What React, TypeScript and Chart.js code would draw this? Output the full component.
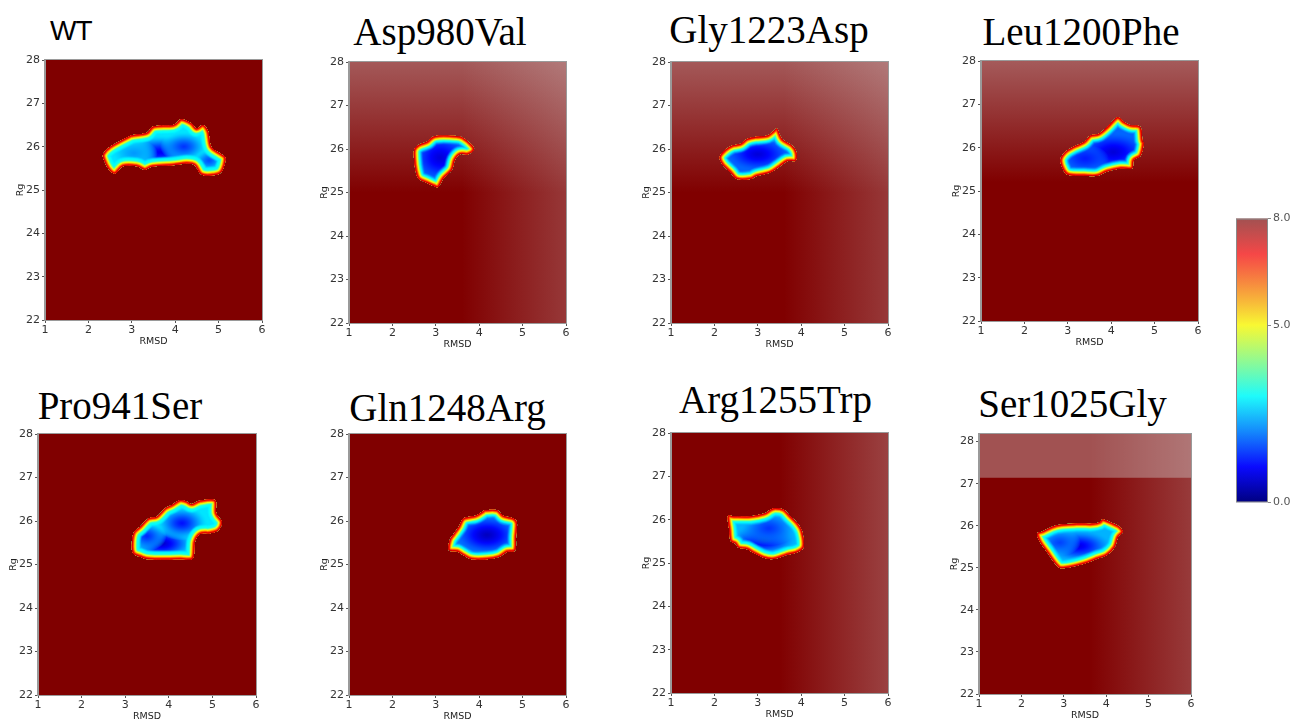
import React, { useEffect, useRef } from 'react';
import { Chart, registerables } from 'chart.js';

Chart.register(...registerables);

// ---------------- data ----------------
const xTicks = [1, 2, 3, 4, 5, 6];
const yTicks = [22, 23, 24, 25, 26, 27, 28];
const colorbarTicks = [0, 5, 8];
const rmsdRange = [1, 6];
const rgMin = 22;
const rgMax = [28, 28, 28, 28, 28, 28, 28, 28.18];
const energyMax = 8;

const panelTitles = ['WT', 'Asp980Val', 'Gly1223Asp', 'Leu1200Phe', 'Pro941Ser', 'Gln1248Arg', 'Arg1255Trp', 'Ser1025Gly'];

// basin borders [RMSD, Rg] (where the free energy leaves the 8.0 plateau)
const wtBasin = [[2.34, 25.83], [2.5, 26.0], [2.92, 26.23], [3.03, 26.27], [3.34, 26.32], [3.51, 26.47], [3.95, 26.5], [4.14, 26.63], [4.37, 26.54], [4.49, 26.42], [4.64, 26.5], [4.76, 26.35], [4.83, 26.0], [5.03, 25.85], [5.16, 25.73], [5.07, 25.42], [4.87, 25.34], [4.6, 25.36], [4.45, 25.57], [4.26, 25.61], [3.95, 25.57], [3.49, 25.54], [3.3, 25.47], [3.11, 25.55], [2.8, 25.55], [2.61, 25.38], [2.46, 25.49], [2.36, 25.69]];
const aspBasin = [[2.5, 25.98], [2.6, 26.09], [2.8, 26.17], [2.99, 26.3], [3.48, 26.3], [3.64, 26.25], [3.83, 26.09], [3.88, 25.98], [3.75, 25.88], [3.56, 25.88], [3.44, 25.75], [3.37, 25.52], [3.18, 25.33], [3.06, 25.13], [2.95, 25.15], [2.8, 25.22], [2.6, 25.32], [2.53, 25.52], [2.5, 25.75]];
const glyBasin = [[2.12, 25.82], [2.25, 25.98], [2.41, 26.08], [2.6, 26.12], [2.75, 26.23], [2.95, 26.28], [3.22, 26.31], [3.37, 26.42], [3.45, 26.46], [3.56, 26.23], [3.79, 26.08], [3.89, 25.92], [3.87, 25.73], [3.68, 25.72], [3.48, 25.58], [3.29, 25.46], [2.98, 25.38], [2.83, 25.31], [2.52, 25.31], [2.37, 25.46], [2.18, 25.65]];
const leuBasin = [[2.83, 25.72], [2.94, 25.9], [3.13, 26.02], [3.37, 26.13], [3.52, 26.28], [3.71, 26.32], [3.91, 26.48], [4.14, 26.7], [4.29, 26.6], [4.45, 26.52], [4.67, 26.48], [4.72, 26.17], [4.75, 26.09], [4.68, 25.82], [4.52, 25.71], [4.48, 25.52], [4.22, 25.52], [3.91, 25.45], [3.68, 25.35], [3.37, 25.35], [3.02, 25.37], [2.9, 25.48]];
const proBasin = [[3.15, 25.41], [3.19, 25.72], [3.34, 25.87], [3.53, 26.06], [3.72, 26.1], [3.91, 26.29], [4.07, 26.37], [4.26, 26.48], [4.41, 26.45], [4.53, 26.39], [4.72, 26.47], [5.06, 26.48], [5.09, 26.18], [5.22, 25.98], [5.14, 25.79], [4.95, 25.72], [4.72, 25.7], [4.6, 25.52], [4.55, 25.14], [4.26, 25.12], [3.57, 25.12], [3.34, 25.18], [3.19, 25.25]];
const glnBasin = [[3.3, 25.33], [3.32, 25.56], [3.41, 25.7], [3.53, 25.87], [3.64, 26.06], [3.91, 26.12], [4.07, 26.21], [4.14, 26.25], [4.41, 26.25], [4.56, 26.12], [4.79, 26.06], [4.87, 25.95], [4.85, 25.64], [4.83, 25.33], [4.64, 25.29], [4.45, 25.17], [4.18, 25.12], [3.83, 25.12], [3.64, 25.21], [3.49, 25.3]];
const argBasin = [[2.31, 26.08], [2.45, 26.08], [2.83, 26.08], [3.14, 26.14], [3.29, 26.23], [3.41, 26.27], [3.6, 26.23], [3.75, 26.08], [3.91, 25.92], [4.02, 25.73], [4.06, 25.38], [3.91, 25.25], [3.68, 25.19], [3.37, 25.09], [3.14, 25.12], [2.91, 25.23], [2.75, 25.32], [2.56, 25.35], [2.48, 25.45], [2.37, 25.52], [2.34, 25.77]];
const serBasin = [[2.37, 25.81], [2.51, 25.87], [2.83, 26.01], [3.3, 26.05], [3.69, 26.05], [3.85, 26.09], [3.93, 26.15], [4.17, 26.05], [4.32, 25.97], [4.39, 25.85], [4.28, 25.73], [4.2, 25.49], [4.01, 25.3], [3.77, 25.21], [3.46, 25.09], [2.99, 24.99], [2.83, 25.06], [2.6, 25.38], [2.44, 25.61]];

// minima [RMSD, Rg, free energy, half-width RMSD, half-width Rg]
const wtMinima = [[3.65, 25.87, 0.9, 0.85, 0.4], [4.2, 26.0, 1.4, 0.55, 0.35], [4.78, 25.68, 1.6, 0.35, 0.26], [3.05, 25.85, 2.2, 0.55, 0.32]];
const aspMinima = [[3.1, 25.8, 0.7, 0.65, 0.55]];
const glyMinima = [[3.0, 25.88, 0.7, 0.75, 0.38]];
const leuMinima = [[4.05, 25.9, 0.7, 0.8, 0.45], [3.4, 25.75, 1.2, 0.55, 0.32]];
const proMinima = [[3.85, 25.48, 0.6, 0.8, 0.4], [4.3, 25.95, 1.1, 0.6, 0.4], [3.5, 25.65, 1.3, 0.45, 0.34]];
const glnMinima = [[4.18, 25.68, 0.5, 0.75, 0.45]];
const argMinima = [[3.15, 25.55, 0.6, 0.75, 0.38], [3.25, 25.8, 1.4, 0.65, 0.4]];
const serMinima = [[3.35, 25.52, 0.8, 0.8, 0.38], [2.9, 25.6, 1.5, 0.5, 0.32]];

// free energy on the basin floor, just inside the steep rim
const basinFloor = [2.8, 1.8, 1.8, 1.8, 2.8, 1.9, 2.4, 2.4];

const BASINS = [wtBasin, aspBasin, glyBasin, leuBasin, proBasin, glnBasin, argBasin, serBasin];
const MINIMA = [wtMinima, aspMinima, glyMinima, leuMinima, proMinima, glnMinima, argMinima, serMinima];

// ---------------- layout / style ----------------
const BOXES = [
  { L: 45, T: 60, R: 262, B: 320 },
  { L: 349, T: 62, R: 566, B: 323 },
  { L: 671, T: 62, R: 888, B: 323 },
  { L: 981, T: 61, R: 1198, B: 321 },
  { L: 38, T: 434, R: 256, B: 695 },
  { L: 349, T: 434, R: 566, B: 695 },
  { L: 671, T: 433, R: 888, B: 693 },
  { L: 979, T: 434, R: 1191, B: 694 },
];

const TITLE_POS = [
  { x: 50, base: 41, sans: true },
  { x: 440, base: 45 },
  { x: 769, base: 42.5 },
  { x: 1081, base: 45 },
  { x: 120, base: 419 },
  { x: 447.5, base: 421 },
  { x: 775.5, base: 413 },
  { x: 1072.5, base: 417 },
];

const OVERLAYS: any[][] = [
  [],
  [{ k: 'v', a0: 28, a1: 25, alpha: 0.41 }, { k: 'h', a0: 3.6, a1: 6, alpha: 0.26 }],
  [{ k: 'v', a0: 28, a1: 25, alpha: 0.41 }, { k: 'h', a0: 3.6, a1: 6, alpha: 0.26 }],
  [{ k: 'v', a0: 28, a1: 25.2, alpha: 0.42 }],
  [],
  [],
  [{ k: 'h', a0: 3.5, a1: 6, alpha: 0.3 }],
  [{ k: 'h', a0: 3.6, a1: 6, alpha: 0.27 }, { k: 'band', a0: 27.14, a1: 28.18, alpha: 0.38 }],
];

const OVERLAY_RGB = '215,215,215';
const RIM_W = 5.5; // px: 8.0 -> 3.2
const RIM_END = 3.2;
const FLOOR_W = 4; // px: 3.2 -> floor

function jet(e: number): number[] {
  const t = Math.max(0, Math.min(1, e / energyMax));
  const f = (v: number) => Math.round(Math.max(0, Math.min(1, v)) * 255);
  return [f(1.5 - Math.abs(4 * t - 3)), f(1.5 - Math.abs(4 * t - 2)), f(1.5 - Math.abs(4 * t - 1))];
}
const rgba = (c: number[], a = 1) => `rgba(${c[0]},${c[1]},${c[2]},${a})`;

function tracePath(ctx: CanvasRenderingContext2D, pts: { x: number; y: number }[]) {
  const n = pts.length;
  const P = (k: number) => pts[(k + n) % n];
  ctx.beginPath();
  ctx.moveTo(pts[0].x, pts[0].y);
  for (let i = 0; i < n; i++) {
    const p0 = P(i - 1), p1 = P(i), p2 = P(i + 1), p3 = P(i + 2);
    const c1x = p1.x + (p2.x - p0.x) / 6, c1y = p1.y + (p2.y - p0.y) / 6;
    const c2x = p2.x - (p3.x - p1.x) / 6, c2y = p2.y - (p3.y - p1.y) / 6;
    ctx.bezierCurveTo(c1x, c1y, c2x, c2y, p2.x, p2.y);
  }
  ctx.closePath();
}

const felPlugin = {
  id: 'fel',
  beforeDraw(chart: any, _a: any, opts: any) {
    const { ctx, chartArea: ca, scales } = chart;
    ctx.save();
    ctx.fillStyle = rgba(jet(energyMax));
    ctx.fillRect(ca.left, ca.top, ca.width, ca.height);
    for (const o of opts.overlays || []) {
      if (o.k === 'v') {
        const g = ctx.createLinearGradient(0, scales.y.getPixelForValue(o.a0), 0, scales.y.getPixelForValue(o.a1));
        g.addColorStop(0, `rgba(${OVERLAY_RGB},${o.alpha})`);
        g.addColorStop(1, `rgba(${OVERLAY_RGB},0)`);
        ctx.fillStyle = g;
        ctx.fillRect(ca.left, ca.top, ca.width, ca.height);
      } else if (o.k === 'h') {
        const g = ctx.createLinearGradient(scales.x.getPixelForValue(o.a0), 0, scales.x.getPixelForValue(o.a1), 0);
        g.addColorStop(0, `rgba(${OVERLAY_RGB},0)`);
        g.addColorStop(1, `rgba(${OVERLAY_RGB},${o.alpha})`);
        ctx.fillStyle = g;
        ctx.fillRect(ca.left, ca.top, ca.width, ca.height);
      } else if (o.k === 'band') {
        const y0 = scales.y.getPixelForValue(o.a0);
        const y1 = scales.y.getPixelForValue(o.a1);
        ctx.fillStyle = `rgba(${OVERLAY_RGB},${o.alpha})`;
        ctx.fillRect(ca.left, Math.min(y0, y1), ca.width, Math.abs(y1 - y0));
      }
    }
    ctx.restore();
  },
  afterDatasetsDraw(chart: any, _a: any, opts: any) {
    const { ctx, chartArea: ca, scales } = chart;
    const pts = chart.getDatasetMeta(0).data.map((p: any) => ({ x: p.x, y: p.y }));
    if (pts.length < 3) return;
    const floor = opts.floor;
    ctx.save();
    ctx.beginPath();
    ctx.rect(ca.left, ca.top, ca.width, ca.height);
    ctx.clip();
    tracePath(ctx, pts);
    ctx.clip();
    ctx.fillStyle = rgba(jet(floor));
    ctx.fillRect(ca.left, ca.top, ca.width, ca.height);
    // minima
    const mins = chart.getDatasetMeta(1).data;
    const raw = opts.minima;
    mins.forEach((el: any, k: number) => {
      const [mx, my, me, hx, hy] = raw[k];
      const rx = Math.abs(scales.x.getPixelForValue(mx + hx) - el.x);
      const ry = Math.abs(el.y - scales.y.getPixelForValue(my + hy));
      ctx.save();
      ctx.translate(el.x, el.y);
      ctx.scale(rx, ry);
      const g = ctx.createRadialGradient(0, 0, 0, 0, 0, 1);
      for (let i = 0; i <= 12; i++) {
        const s = i / 12;
        const e = me + (floor - me) * Math.pow(s, 1.2);
        const a = 1 - Math.pow(s, 3);
        g.addColorStop(s, rgba(jet(e), Math.max(0, a)));
      }
      ctx.fillStyle = g;
      ctx.beginPath();
      ctx.arc(0, 0, 1, 0, Math.PI * 2);
      ctx.fill();
      ctx.restore();
    });
    // rim: steep wall 8.0 -> RIM_END, then a softer slope to the floor
    ctx.lineJoin = 'round';
    ctx.filter = 'blur(0.7px)';
    const total = RIM_W + FLOOR_W;
    for (let d = total; d > 0; d -= 0.5) {
      let e: number;
      let a = 1;
      if (d <= RIM_W) {
        e = energyMax - (energyMax - RIM_END) * (d / RIM_W);
      } else {
        const s = (d - RIM_W) / FLOOR_W;
        e = RIM_END + (floor - RIM_END) * s;
        a = 1 - s * 0.85;
      }
      ctx.strokeStyle = rgba(jet(e), a);
      ctx.lineWidth = 2 * d;
      tracePath(ctx, pts);
      ctx.stroke();
    }
    ctx.restore();
  },
  afterDraw(chart: any) {
    const { ctx, chartArea: ca } = chart;
    ctx.save();
    ctx.strokeStyle = '#9a9a9a';
    ctx.lineWidth = 1;
    ctx.strokeRect(ca.left - 0.5, ca.top - 0.5, ca.width + 1, ca.height + 1);
    ctx.restore();
  },
};

const TICK_FONT = { family: 'DejaVu Sans', size: 11 };
const AXIS_FONT = { family: 'DejaVu Sans', size: 9.5 };

function Panel({ i }: { i: number }) {
  const ref = useRef<HTMLCanvasElement>(null);
  const box = BOXES[i];
  const padL = 2, yW = 30, padT = 10, padR = 8, xH = 27, padB = 2;
  const left = box.L - padL - yW;
  const top = box.T - padT;
  const width = box.R - left + padR;
  const height = box.B - top + xH + padB;

  useEffect(() => {
    const chart = new Chart(ref.current as HTMLCanvasElement, {
      type: 'scatter',
      data: {
        datasets: [
          { data: BASINS[i].map(([x, y]) => ({ x, y })), pointRadius: 0, showLine: false },
          { data: MINIMA[i].map(([x, y]) => ({ x, y })), pointRadius: 0, showLine: false },
        ],
      },
      options: {
        responsive: false,
        animation: false,
        devicePixelRatio: 1,
        events: [],
        layout: { padding: { left: padL, top: padT, right: padR, bottom: padB } },
        plugins: {
          legend: { display: false },
          tooltip: { enabled: false },
          fel: { overlays: OVERLAYS[i], floor: basinFloor[i], minima: MINIMA[i] },
        } as any,
        scales: {
          x: {
            type: 'linear',
            min: rmsdRange[0],
            max: rmsdRange[1],
            afterBuildTicks: (s: any) => { s.ticks = xTicks.map((v) => ({ value: v })); },
            afterFit: (s: any) => { s.height = xH; },
            ticks: { font: TICK_FONT, color: '#333', padding: 1, maxRotation: 0, autoSkip: false },
            grid: { drawOnChartArea: false, tickLength: 3, color: '#555' },
            border: { display: true, color: '#9a9a9a' },
            title: { display: true, text: 'RMSD', font: AXIS_FONT, color: '#222', padding: 0 },
          },
          y: {
            type: 'linear',
            min: rgMin,
            max: rgMax[i],
            afterBuildTicks: (s: any) => { s.ticks = yTicks.map((v) => ({ value: v })); },
            afterFit: (s: any) => { s.width = yW; },
            ticks: { font: TICK_FONT, color: '#333', padding: 2, autoSkip: false },
            grid: { drawOnChartArea: false, tickLength: 3, color: '#555' },
            border: { display: true, color: '#9a9a9a' },
            title: { display: true, text: 'Rg', font: AXIS_FONT, color: '#222', padding: 0 },
          },
        },
      } as any,
      plugins: [felPlugin as any],
    });
    return () => chart.destroy();
  }, []);

  return (
    <canvas
      ref={ref}
      width={width}
      height={height}
      style={{ position: 'absolute', left, top, width, height }}
    />
  );
}

function Title({ i }: { i: number }) {
  const p = TITLE_POS[i];
  if (p.sans) {
    const size = 28;
    return (
      <div style={{ position: 'absolute', left: p.x, top: p.base - 0.8465 * size, fontFamily: '"Liberation Sans", Arial, sans-serif', fontSize: size, lineHeight: `${size}px`, letterSpacing: -1, whiteSpace: 'nowrap', color: '#000' }}>
        {panelTitles[i]}
      </div>
    );
  }
  const size = 39;
  return (
    <div style={{ position: 'absolute', left: p.x - 150, width: 300, textAlign: 'center', top: p.base - 0.8375 * size, fontFamily: '"Liberation Serif", "Times New Roman", serif', fontSize: size, lineHeight: `${size}px`, whiteSpace: 'nowrap', color: '#000' }}>
      {panelTitles[i]}
    </div>
  );
}

const cbarPlugin = {
  id: 'cbarFx',
  afterDatasetsDraw(chart: any) {
    const { ctx, chartArea: ca } = chart;
    ctx.save();
    const g = ctx.createLinearGradient(0, ca.top, 0, ca.bottom);
    g.addColorStop(0, 'rgba(225,225,225,0.36)');
    g.addColorStop(1, 'rgba(225,225,225,0)');
    ctx.fillStyle = g;
    ctx.fillRect(ca.left, ca.top, ca.width, ca.height);
    ctx.strokeStyle = '#8a8a8a';
    ctx.lineWidth = 1;
    ctx.strokeRect(ca.left + 0.5, ca.top + 0.5, ca.width - 1, ca.height - 1);
    ctx.restore();
  },
};

function ColorBar() {
  const ref = useRef<HTMLCanvasElement>(null);
  const barL = 1236, barT = 218, barW = 32, barH = 285;
  const padL = 1, padT = 8, padB = 8, yW = 22;
  const left = barL - padL;
  const top = barT - padT;
  const width = padL + barW + yW;
  const height = padT + barH + padB;

  useEffect(() => {
    const chart = new Chart(ref.current as HTMLCanvasElement, {
      type: 'bar',
      data: {
        labels: [''],
        datasets: [
          {
            data: [[colorbarTicks[0], energyMax]] as any,
            barPercentage: 1,
            categoryPercentage: 1,
            borderWidth: 0,
            backgroundColor: (c: any) => {
              const ca = c.chart.chartArea;
              if (!ca) return rgba(jet(energyMax));
              const g = c.chart.ctx.createLinearGradient(0, ca.bottom, 0, ca.top);
              for (let k = 0; k <= 32; k++) {
                const e = (k / 32) * energyMax;
                g.addColorStop(k / 32, rgba(jet(e)));
              }
              return g;
            },
          },
        ],
      },
      options: {
        responsive: false,
        animation: false,
        devicePixelRatio: 1,
        events: [],
        layout: { padding: { left: padL, top: padT, right: 0, bottom: padB } },
        plugins: { legend: { display: false }, tooltip: { enabled: false } },
        scales: {
          x: { type: 'category', display: false },
          y: {
            position: 'right',
            min: 0,
            max: energyMax,
            afterBuildTicks: (s: any) => { s.ticks = colorbarTicks.map((v) => ({ value: v })); },
            afterFit: (s: any) => { s.width = yW; },
            ticks: { font: { family: 'DejaVu Sans', size: 11 }, color: '#555', padding: 2, callback: (v: any) => Number(v).toFixed(1) },
            grid: { drawOnChartArea: false, tickLength: 3, color: '#888' },
            border: { display: false },
          },
        },
      } as any,
      plugins: [cbarPlugin as any],
    });
    return () => chart.destroy();
  }, []);

  return (
    <canvas ref={ref} width={width} height={height} style={{ position: 'absolute', left, top, width, height }} />
  );
}

export default function App() {
  return (
    <div style={{ position: 'fixed', left: 0, top: 0, width: 1292, height: 719, background: '#fff', overflow: 'hidden' }}>
      {panelTitles.map((_, i) => (
        <Title key={'t' + i} i={i} />
      ))}
      {panelTitles.map((_, i) => (
        <Panel key={'p' + i} i={i} />
      ))}
      <ColorBar />
    </div>
  );
}
